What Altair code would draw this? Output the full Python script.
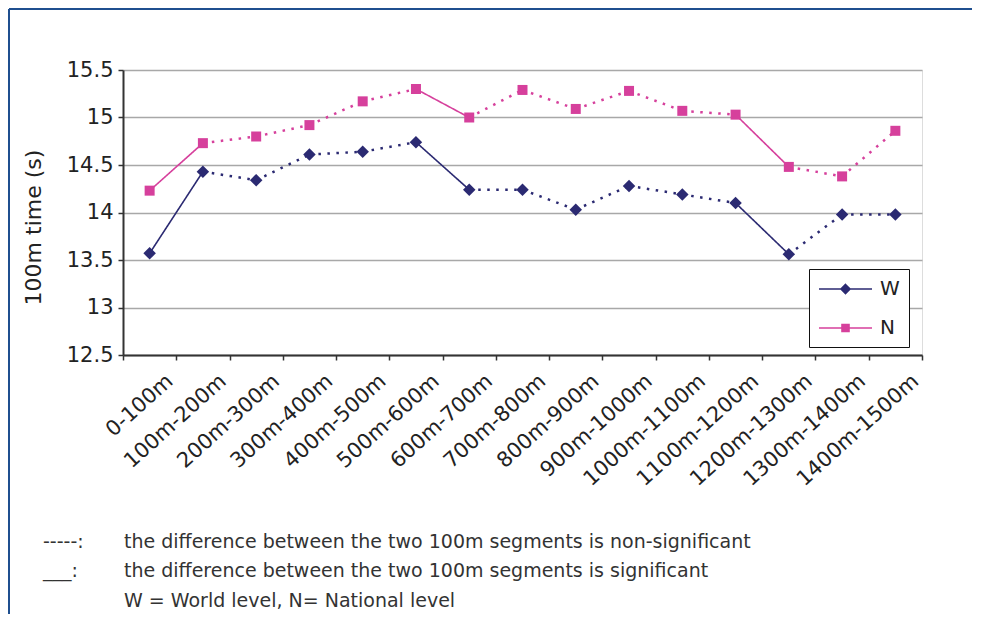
import altair as alt
import pandas as pd

categories = ["0-100m", "100m-200m", "200m-300m", "300m-400m", "400m-500m",
              "500m-600m", "600m-700m", "700m-800m", "800m-900m", "900m-1000m",
              "1000m-1100m", "1100m-1200m", "1200m-1300m", "1300m-1400m", "1400m-1500m"]
w_values = [13.57, 14.43, 14.34, 14.61, 14.64, 14.74, 14.24, 14.24, 14.03, 14.28,
            14.19, 14.10, 13.56, 13.98, 13.98]
n_values = [14.23, 14.73, 14.80, 14.92, 15.17, 15.30, 15.00, 15.29, 15.09, 15.28,
            15.07, 15.03, 14.48, 14.38, 14.86]
# significance of the difference between consecutive segments (True = significant)
significant = [True, False, False, False, False, True, False, False, False, False,
               False, True, False, False]
series_names = ["W", "N"]
footnote_prefixes = ["-----:", "___:", ""]
footnote_texts = [
    "the difference between the two 100m segments is non-significant",
    "the difference between the two 100m segments is significant",
    "W = World level, N= National level",
]

NAVY = "#2b2a72"
PINK = "#d6409c"
FONT = "DejaVu Sans"

series_vals = {"W": w_values, "N": n_values}

pts = pd.DataFrame([
    {"segment": c, "series": s, "time": v, "order": i}
    for s in series_names for i, (c, v) in enumerate(zip(categories, series_vals[s]))
])

seg_rows = []
for s in series_names:
    vals = series_vals[s]
    for i, sig in enumerate(significant):
        style = "solid" if sig else "dotted"
        for j in (i, i + 1):
            seg_rows.append({"segment": categories[j], "series": s, "time": vals[j],
                             "seg_id": f"{s}{i}", "style": style, "order": j})
segs = pd.DataFrame(seg_rows)

x_enc = alt.X("segment:N", sort=categories, bandPosition=0.5,
              scale=alt.Scale(type="band", domain=categories, paddingInner=0, paddingOuter=0),
              axis=alt.Axis(title=None, labelAngle=-42, labelFont=FONT, labelFontSize=21,
                            labelColor="#222", labelOffset=20, labelPadding=18,
                            tickBand="extent", tickSize=5, tickColor="#333", tickWidth=1.5,
                            domainColor="#333", domainWidth=2, grid=False,
                            labelAlign="right", labelBaseline="middle"))
y_scale = alt.Scale(domain=[12.5, 15.5], nice=False, zero=False)
y_axis = alt.Axis(title="100m time (s)", titleFont=FONT, titleFontSize=22,
                  titleFontWeight="normal", titleColor="#222", titlePadding=21, titleY=157,
                  values=[12.5, 13, 13.5, 14, 14.5, 15, 15.5],
                  labelExpr="toString(datum.value)",
                  labelFont=FONT, labelFontSize=21, labelColor="#222", labelPadding=5,
                  tickSize=5, tickColor="#333", tickWidth=1.5,
                  domainColor="#333", domainWidth=2,
                  grid=True, gridColor="#a8a8a8", gridWidth=1.5)
color_scale = alt.Scale(domain=series_names, range=[NAVY, PINK])

lines = alt.Chart(segs).mark_line().encode(
    x=x_enc,
    y=alt.Y("time:Q", scale=y_scale, axis=y_axis),
    color=alt.Color("series:N", scale=color_scale, legend=None),
    detail="seg_id:N",
    strokeDash=alt.StrokeDash("style:N", scale=alt.Scale(domain=["solid", "dotted"],
                                                         range=[[1, 0], [2.5, 6.5]]), legend=None),
    strokeWidth=alt.StrokeWidth("style:N", scale=alt.Scale(domain=["solid", "dotted"],
                                                           range=[1.6, 2.5]), legend=None),
    order="order:Q",
)

DIAMOND = "M0,-1.25L1.25,0L0,1.25L-1.25,0Z"
SQUARE = "M-1,-1L1,-1L1,1L-1,1Z"
LEG_W = "M-1,0L4.3,0M1.65,-0.45L2.1,0L1.65,0.45L1.2,0Z"
LEG_N = "M-1,0L4.3,0M1.3,-0.35L2.0,-0.35L2.0,0.35L1.3,0.35Z"

points = alt.Chart(pts).mark_point(filled=True, opacity=1, size=100).encode(
    x=x_enc,
    y=alt.Y("time:Q", scale=y_scale),
    color=alt.Color("series:N", scale=color_scale, legend=None),
    shape=alt.Shape("series:N", scale=alt.Scale(domain=series_names, range=[DIAMOND, SQUARE]),
                    legend=None),
)

legend_props = dict(title=None, orient="none", legendX=686, legendY=199,
                    padding=9, strokeColor="#111", fillColor="white",
                    symbolSize=400, labelOffset=40, rowPadding=18,
                    symbolStrokeWidth=1.6, symbolOpacity=1,
                    labelFont=FONT, labelFontSize=20, labelColor="#222")

legend_layer = alt.Chart(pts).transform_filter("false").mark_point(
    filled=True, opacity=1, size=400, strokeWidth=1.6).encode(
    x=x_enc,
    y=alt.Y("time:Q", scale=y_scale),
    color=alt.Color("series:N", scale=color_scale, legend=alt.Legend(**legend_props)),
    stroke=alt.Stroke("series:N", scale=color_scale, legend=alt.Legend(**legend_props)),
    shape=alt.Shape("series:N", scale=alt.Scale(domain=series_names, range=[LEG_W, LEG_N]),
                    legend=alt.Legend(**legend_props)),
)

note_y = [472, 501, 531]
note_layers = []
for i in range(3):
    df = pd.DataFrame([{"prefix": footnote_prefixes[i], "text": footnote_texts[i]}])
    note_layers.append(alt.Chart(df).mark_text(align="left", baseline="middle", font=FONT,
                                               fontSize=19, color="#333").encode(
        x=alt.value(1), y=alt.value(note_y[i]), text="text:N"))
    if footnote_prefixes[i]:
        note_layers.append(alt.Chart(df).mark_text(align="left", baseline="middle", font=FONT,
                                                   fontSize=19, color="#333").encode(
            x=alt.value(-80), y=alt.value(note_y[i]), text="prefix:N"))

frame_df = pd.DataFrame([{"k": 0}])
frame_top = alt.Chart(frame_df).mark_rule(color="#1f4f8f", strokeWidth=2).encode(
    x=alt.value(-114), x2=alt.value(860), y=alt.value(-61))
frame_left = alt.Chart(frame_df).mark_rule(color="#1f4f8f", strokeWidth=2).encode(
    x=alt.value(-114), y=alt.value(-61), y2=alt.value(545))

chart = alt.layer(frame_top, frame_left, lines, points, legend_layer,
                  *note_layers).resolve_scale(
    shape="independent", color="independent", stroke="independent"
).properties(
    width=799, height=285,
    padding={"left": 115, "top": 62, "right": 50, "bottom": 259},
    autosize=alt.AutoSizeParams(type="none"),
).configure_view(stroke="#a8a8a8", strokeWidth=2).configure(background="white")

chart.save("out.html", embed_options={"renderer": "svg", "actions": False})
